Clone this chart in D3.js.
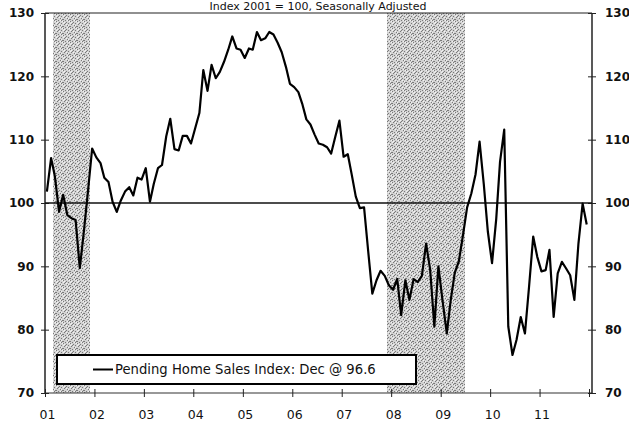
<!DOCTYPE html>
<html lang="en">
<head>
    <title>Pending Home Sales Index</title>
    <script src="https://d3js.org/d3.v7.min.js"></script>
    <style>
      body { margin: 0; background: #fff; }
      text { font-family: "DejaVu Sans", Verdana, sans-serif; fill: #111; }
    </style>
</head>
<body>
    <svg width=629 height=423></svg>
</body>
    <script>
    // monthly index, Jan 2001 .. Dec 2011 (2001 = 100, SA)
    const v2001 = [101.8, 107.1, 104.2, 98.6, 101.3, 98.1, 97.6, 97.3, 89.7, 95.5, 102.0, 108.6]
    const v2002 = [107.2, 106.3, 104.0, 103.3, 100.2, 98.6, 100.4, 101.8, 102.5, 101.2, 104.0, 103.7]
    const v2003 = [105.5, 100.2, 103.0, 105.5, 106.0, 110.5, 113.3, 108.5, 108.3, 110.6, 110.6, 109.4]
    const v2004 = [111.8, 114.2, 121.0, 117.7, 121.8, 119.7, 120.7, 122.3, 124.2, 126.3, 124.4, 124.2]
    const v2005 = [122.9, 124.4, 124.2, 127.0, 125.7, 126.0, 127.0, 126.6, 125.3, 123.8, 121.5, 118.8]
    const v2006 = [118.3, 117.5, 115.7, 113.2, 112.4, 110.8, 109.4, 109.2, 108.8, 107.8, 110.5, 113.0]
    const v2007 = [107.3, 107.7, 104.6, 101.0, 99.2, 99.3, 92.5, 85.7, 87.8, 89.3, 88.5, 87.0]
    const v2008 = [86.3, 88.0, 82.3, 87.8, 84.7, 88.0, 87.5, 88.5, 93.6, 89.5, 80.5, 90.0]
    const v2009 = [84.5, 79.4, 84.5, 89.0, 90.8, 95.0, 99.3, 101.5, 104.5, 109.7, 103.0, 95.5]
    const v2010 = [90.5, 97.5, 106.5, 111.6, 80.5, 76.0, 78.4, 82.0, 79.4, 86.7, 94.7, 91.5]
    const v2011 = [89.2, 89.4, 92.6, 82.0, 88.9, 90.7, 89.7, 88.6, 84.7, 93.6, 99.9, 96.6]

    const years = [2001, 2002, 2003, 2004, 2005, 2006, 2007, 2008, 2009, 2010, 2011]
    const yearLabels = ["01", "02", "03", "04", "05", "06", "07", "08", "09", "10", "11"]
    const yTicks = [70, 80, 90, 100, 110, 120, 130]
    const recessions = [["2001-03-01", "2001-12-01"], ["2007-12-01", "2009-07-01"]]
    const title = "Index 2001 = 100, Seasonally Adjusted"
    const legendLabel = "Pending Home Sales Index: Dec @ 96.6"

    const series = [v2001, v2002, v2003, v2004, v2005, v2006, v2007, v2008, v2009, v2010, v2011]
    let data = []
    series.forEach((arr, yi) => {
      arr.forEach((v, m) => data.push({ date: new Date(years[yi], m, 15), value: v }))
    })

    const svg = d3.select("svg")
    const pLeft = 45, pRight = 592, pTop = 13, pBottom = 393

    const x = d3.scaleTime()
      .domain([new Date(2001, 0, 1), new Date(2012, 0, 1)])
      .range([pLeft, 589])
    const y = d3.scaleLinear().domain([70, 130]).range([pBottom, pTop])

    // stipple pattern for recession bars (fixed dither tile)
    const pat = svg.append("defs").append("pattern")
      .attr("id", "stip").attr("width", 7).attr("height", 7)
      .attr("patternUnits", "userSpaceOnUse")
    pat.append("rect").attr("width", 7).attr("height", 7).attr("fill", "#d2d2d2")
    const darkDots = [[0, 0], [3, 1], [5, 2], [1, 3], [4, 4], [6, 5], [2, 6], [0, 5], [5, 6], [2, 2]]
    const lightDots = [[1, 1], [6, 0], [3, 3], [0, 2], [4, 6], [5, 4]]
    pat.selectAll("rect.d").data(darkDots).join("rect")
      .attr("class", "d")
      .attr("x", d => d[0]).attr("y", d => d[1])
      .attr("width", 1).attr("height", 1)
      .attr("fill", "#7a7a7a")
    pat.selectAll("rect.l").data(lightDots).join("rect")
      .attr("class", "l")
      .attr("x", d => d[0]).attr("y", d => d[1])
      .attr("width", 1).attr("height", 1)
      .attr("fill", "#f2f2f2")

    const parse = s => new Date(s + "T00:00")
    svg.selectAll("rect.rec")
      .data(recessions)
      .join("rect")
      .attr("class", "rec")
      .attr("x", d => x(parse(d[0])))
      .attr("width", d => x(parse(d[1])) - x(parse(d[0])))
      .attr("y", pTop)
      .attr("height", pBottom - pTop)
      .attr("fill", "url(#stip)")
      .attr("shape-rendering", "crispEdges")

    // frame
    svg.append("line").attr("x1", pLeft).attr("x2", pRight).attr("y1", pTop).attr("y2", pTop)
      .attr("stroke", "#222").attr("stroke-width", 1.2)
    svg.append("line").attr("x1", pLeft).attr("x2", pRight).attr("y1", pBottom).attr("y2", pBottom)
      .attr("stroke", "#333").attr("stroke-width", 1.2)
    svg.append("line").attr("x1", pLeft).attr("x2", pLeft).attr("y1", pTop).attr("y2", pBottom)
      .attr("stroke", "#222").attr("stroke-width", 1.5)
    svg.append("line").attr("x1", pRight).attr("x2", pRight).attr("y1", pTop).attr("y2", pBottom)
      .attr("stroke", "#222").attr("stroke-width", 1.5)

    // y axes (ticks cross the axis line)
    const leftAxis = d3.axisLeft(y).tickValues(yTicks).tickSize(4).tickPadding(7)
    const gl = svg.append("g").attr("transform", `translate(${pLeft},0)`).call(leftAxis)
    gl.select(".domain").remove()
    gl.selectAll(".tick line").attr("x2", -4).attr("x1", 4).attr("stroke", "#222")
    gl.selectAll("text").attr("font-size", 12).attr("font-weight", "bold").attr("fill", "#111")
      .attr("font-family", "DejaVu Sans")

    const rightAxis = d3.axisRight(y).tickValues(yTicks).tickSize(4).tickPadding(9)
    const gr = svg.append("g").attr("transform", `translate(${pRight},0)`).call(rightAxis)
    gr.select(".domain").remove()
    gr.selectAll(".tick line").attr("x1", -4).attr("x2", 4).attr("stroke", "#222")
    gr.selectAll("text").attr("font-size", 12).attr("font-weight", "bold").attr("fill", "#111")
      .attr("font-family", "DejaVu Sans")

    // x axis
    const xAxis = d3.axisBottom(x)
      .tickValues(years.map(yr => new Date(yr, 0, 1)).concat([new Date(2012, 0, 1)]))
      .tickSize(4).tickPadding(13)
      .tickFormat((d, i) => yearLabels[i] || "")
    const gx = svg.append("g").attr("transform", `translate(0,${pBottom})`).call(xAxis)
    gx.select(".domain").remove()
    gx.selectAll(".tick line").attr("y1", -4).attr("y2", 4).attr("stroke", "#222")
    gx.selectAll("text").attr("font-size", 12.5).attr("fill", "#111")
      .attr("font-family", "DejaVu Sans").attr("dx", 2)

    // reference line at 100
    svg.append("line")
      .attr("x1", pLeft).attr("x2", pRight)
      .attr("y1", y(100)).attr("y2", y(100))
      .attr("stroke", "#111").attr("stroke-width", 1.5)

    // index line
    const line = d3.line().x(d => x(d.date)).y(d => y(d.value))
    svg.append("path")
      .datum(data)
      .attr("d", line)
      .attr("fill", "none")
      .attr("stroke", "#000")
      .attr("stroke-width", 2.2)
      .attr("stroke-linejoin", "round")

    // legend
    const lg = svg.append("g")
    lg.append("rect")
      .attr("x", 57).attr("y", 355).attr("width", 359).attr("height", 29)
      .attr("fill", "#fff").attr("stroke", "#000").attr("stroke-width", 2)
    lg.append("line")
      .attr("x1", 93).attr("x2", 113).attr("y1", 369.5).attr("y2", 369.5)
      .attr("stroke", "#000").attr("stroke-width", 2)
    lg.append("text")
      .attr("x", 115).attr("y", 374)
      .attr("font-size", 13.2)
      .text(legendLabel)

    // title above the plot frame
    svg.append("text")
      .attr("x", 318).attr("y", 9.5)
      .attr("text-anchor", "middle")
      .attr("font-size", 11)
      .text(title)
    </script>
</html>
